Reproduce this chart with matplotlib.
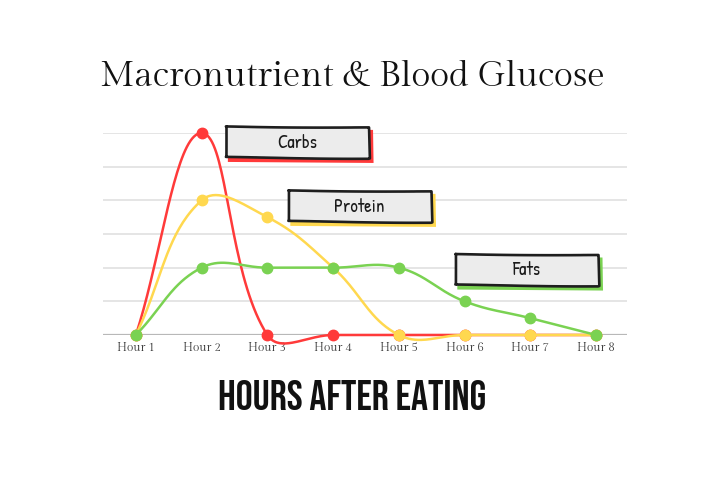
import numpy as np
import matplotlib
matplotlib.use("Agg")
import matplotlib.pyplot as plt
from matplotlib.patches import Polygon
from matplotlib.transforms import offset_copy

# Data
hours = ["Hour 1", "Hour 2", "Hour 3", "Hour 4", "Hour 5", "Hour 6", "Hour 7", "Hour 8"]
carbs = [0, 6, 0, 0, 0, 0, 0, 0]
protein = [0, 4, 3.5, 2, 0, 0, 0, 0]
fats = [0, 2, 2, 2, 2, 1, 0.5, 0]

RED = "#ff3a3a"
YELLOW = "#ffd84f"
GREEN = "#7ad252"

SERIF = ["Gilda Display", "DejaVu Serif"]
HAND = ["Patrick Hand", "DejaVu Sans"]
BEBAS = ["Bebas Neue", "DejaVu Sans"]

PX_X = 65.7   # pixels per hour
PX_Y = 33.7   # pixels per y unit


def smooth(xs, ys, t=0.4, n=40):
    # Chart.js style bezier smoothing, done in pixel-like space
    p = np.column_stack([np.asarray(xs, float) * PX_X, np.asarray(ys, float) * PX_Y])
    m = len(p)
    cpp = np.zeros_like(p)
    cpn = np.zeros_like(p)
    for i in range(m):
        a = p[max(i - 1, 0)]
        b = p[i]
        c = p[min(i + 1, m - 1)]
        d01 = np.hypot(*(b - a))
        d12 = np.hypot(*(c - b))
        tot = d01 + d12
        s01 = d01 / tot if tot else 0
        s12 = d12 / tot if tot else 0
        cpp[i] = b - t * s01 * (c - a)
        cpn[i] = b + t * s12 * (c - a)
    u = np.linspace(0, 1, n)[:, None]
    out = []
    for i in range(m - 1):
        seg = ((1 - u) ** 3 * p[i] + 3 * (1 - u) ** 2 * u * cpn[i]
               + 3 * (1 - u) * u ** 2 * cpp[i + 1] + u ** 3 * p[i + 1])
        out.append(seg)
    out = np.vstack(out)
    return out[:, 0] / PX_X, out[:, 1] / PX_Y


fig = plt.figure(figsize=(7.2, 4.8), dpi=100)
ax = fig.add_axes([103 / 720, 1 - 335 / 480, (627 - 103) / 720, (335 - 133) / 480])

x = np.arange(1, len(hours) + 1)

for yv in range(1, 7):
    ax.axhline(yv, color="#e0e0e0", lw=1.2, zorder=0)
ax.axhline(0, color="#b8b8b8", lw=1.6, zorder=1)

for series, col, z in [(carbs, RED, 3), (protein, YELLOW, 4), (fats, GREEN, 5)]:
    sxs, sys_ = smooth(x, series)
    ax.plot(sxs, sys_, color=col, lw=1.8, zorder=z, clip_on=False, solid_capstyle="round")
    ax.plot(x, series, "o", color=col, ms=7.5, zorder=z, clip_on=False)

ax.set_xlim(0.5, 8.47)
ax.set_ylim(0, 6)
ax.set_xticks(x)
ax.set_xticklabels(hours, family=SERIF, fontsize=8.5, color="#333333")
ax.tick_params(axis="x", length=0, pad=5)
ax.set_yticks([])
for s in ax.spines.values():
    s.set_visible(False)

# hand-drawn label boxes with coloured shadow
labels = [("Carbs", 3.45, 5.72, RED), ("Protein", 4.40, 3.82, YELLOW), ("Fats", 6.94, 1.93, GREEN)]
bw, bh = 142 / PX_X, 30 / PX_Y
# slight wobble of the corners, in pixels (left-top, right-top, right-bottom, left-bottom)
wob = np.array([[0, 1], [1, 0], [1.5, -1], [0, 0]])
shadow_tr = offset_copy(ax.transData, fig=fig, x=3, y=-3.5, units="dots")
for txt, cx, cy, col in labels:
    corners = np.array([[cx - bw / 2, cy + bh / 2], [cx + bw / 2, cy + bh / 2],
                        [cx + bw / 2, cy - bh / 2], [cx - bw / 2, cy - bh / 2]])
    corners = corners + wob / np.array([PX_X, PX_Y])
    ax.add_patch(Polygon(corners, closed=True, transform=shadow_tr, facecolor=col,
                         edgecolor=col, lw=1.5, zorder=6, clip_on=False))
    box = Polygon(corners, closed=True, facecolor="#ececec", edgecolor="#1e1e1e",
                  lw=1.9, zorder=7, clip_on=False, joinstyle="round")
    box.set_sketch_params(scale=0.6, length=300, randomness=2)
    ax.add_patch(box)
    ax.text(cx, cy - 0.04, txt, ha="center", va="center", fontsize=13.5, color="#1a1a1a",
            family=HAND, zorder=8)

fig.text(352 / 720, 1 - 78 / 480, "Macronutrient & Blood Glucose", ha="center", va="center",
         fontsize=25.4, color="#111111", family=SERIF)
fig.text(352 / 720, 1 - 395 / 480, "HOURS AFTER EATING", ha="center", va="center",
         fontsize=30.5, color="#111111", family=BEBAS)

fig.savefig("out.png", dpi=100, facecolor="white")
